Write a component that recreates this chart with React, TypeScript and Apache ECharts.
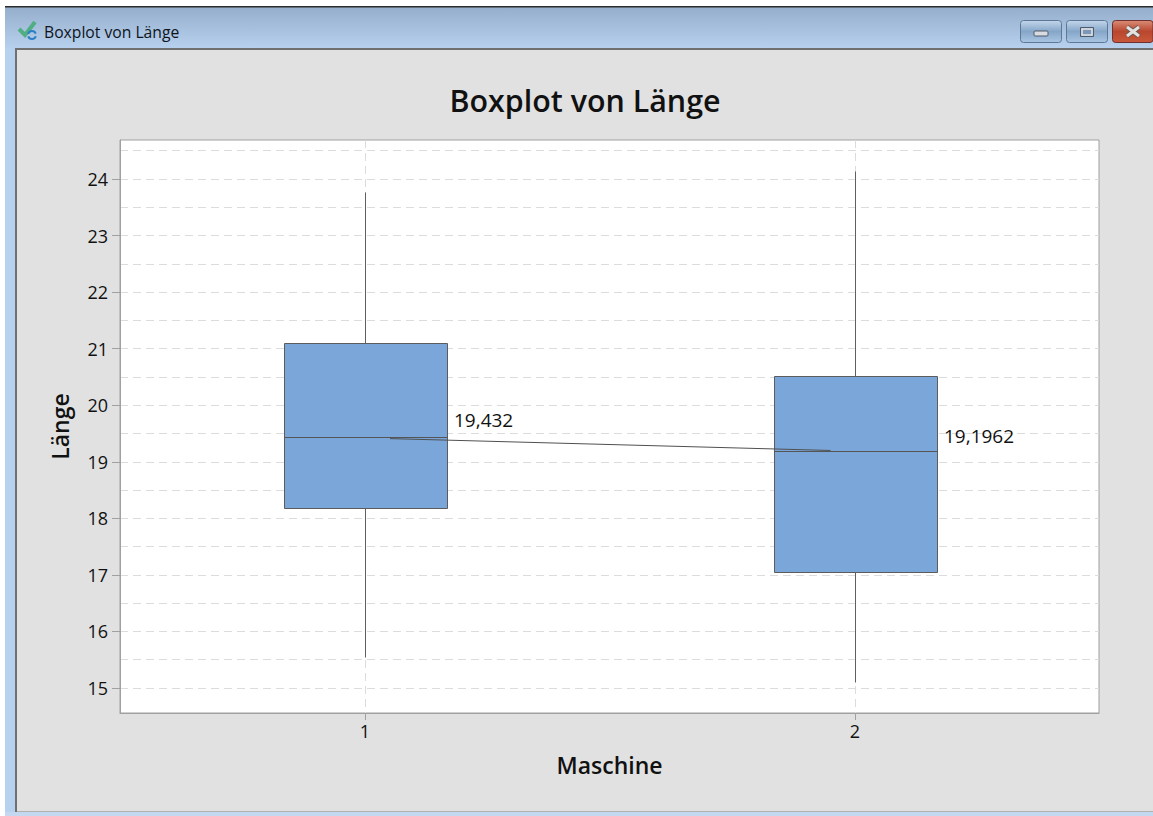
import React, { useEffect, useRef } from "react";
import * as echarts from "echarts";

const chartTitle = "Boxplot von Länge";
const windowTitle = "Boxplot von Länge";
const xName = "Maschine";
const yName = "Länge";
const machines = [1, 2];
const lows = [15.55, 15.1];
const q1s = [18.18, 17.05];
const medians = [19.432, 19.1962];
const q3s = [21.1, 20.52];
const highs = [23.77, 24.14];
const connector = [
  [1.051, 19.41],
  [1.95, 19.2],
];
const yMajor = [15, 16, 17, 18, 19, 20, 21, 22, 23, 24];
const yMinor = [15.5, 16.5, 17.5, 18.5, 19.5, 20.5, 21.5, 22.5, 23.5, 24.5];
const FONT = "'Open Sans', 'Noto Sans', sans-serif";
const BOX_W = 163;

const vGrad = (a: string, b: string, c?: string) =>
  new echarts.graphic.LinearGradient(0, 0, 0, 1, c
    ? [{ offset: 0, color: a }, { offset: 0.5, color: b }, { offset: 1, color: c }]
    : [{ offset: 0, color: a }, { offset: 1, color: b }]);

const crisp = (v: number) => Math.round(v) + 0.5;

function renderBox(params: any, api: any) {
  const x = api.value(0);
  const pt = (v: number) => api.coord([x, v]);
  const rawCx = pt(api.value(3))[0];
  const cx = crisp(rawCx);
  const yLow = crisp(pt(api.value(1))[1]);
  const yQ1 = crisp(pt(api.value(2))[1]);
  const yMed = crisp(pt(api.value(3))[1]);
  const yQ3 = crisp(pt(api.value(4))[1]);
  const yHigh = crisp(pt(api.value(5))[1]);
  const left = cx - 81;
  const right = left + BOX_W;
  const line = { stroke: "#606060", lineWidth: 1 };
  return {
    type: "group",
    children: [
      { type: "line", shape: { x1: cx, y1: yHigh, x2: cx, y2: yQ3 }, style: line },
      { type: "line", shape: { x1: cx, y1: yQ1, x2: cx, y2: yLow }, style: line },
      {
        type: "rect",
        shape: { x: left, y: yQ3, width: BOX_W, height: yQ1 - yQ3 },
        style: { fill: "#7aa6da", stroke: "#5c5c5c", lineWidth: 1 },
      },
      { type: "line", shape: { x1: left, y1: yMed, x2: right, y2: yMed }, style: { stroke: "#555", lineWidth: 1 } },
      {
        type: "text",
        x: right + 6.5,
        y: yMed - (params.dataIndex === 0 ? 17.5 : 15.5),
        style: {
          text: String(api.value(3)).replace(".", ","),
          fill: "#111",
          font: `19px ${FONT}`,
          textVerticalAlign: "middle",
        },
      },
    ],
  };
}

const chromeRect = (x: number, y: number, width: number, height: number, fill: any, extra: any = {}) => ({
  type: "rect",
  silent: true,
  shape: { x, y, width, height, ...(extra.r ? { r: extra.r } : {}) },
  style: { fill, ...(extra.stroke ? { stroke: extra.stroke, lineWidth: extra.lw || 1 } : {}) },
});

const chrome = [
  chromeRect(5, 7, 1148, 41, vGrad("#94aecb", "#b6d0ed")),
  chromeRect(5, 6, 1148, 1.5, "#2c2c2c"),
  chromeRect(5, 48, 11, 768, "#b7d2ee"),
  chromeRect(5, 812, 1148, 4, "#c4d9ef"),
  chromeRect(15, 48, 1138, 2, "#707070"),
  chromeRect(15, 48, 2, 764, "#707070"),
  chromeRect(17, 50, 1136, 761, "#e1e1e1"),
  chromeRect(17, 811, 1136, 1, "#b0b0b0"),
  // check mark + refresh icon
  { type: "polyline", silent: true, shape: { points: [[19, 29], [25, 35], [35, 22]] }, style: { stroke: "#4fae82", lineWidth: 4, fill: "none" } },
  { type: "arc", silent: true, shape: { cx: 32, cy: 35, r: 4, startAngle: 3.4, endAngle: 5.9 }, style: { stroke: "#2c7fc4", lineWidth: 2, fill: "none" } },
  { type: "arc", silent: true, shape: { cx: 32, cy: 35, r: 4, startAngle: 0.3, endAngle: 2.8 }, style: { stroke: "#2c7fc4", lineWidth: 2, fill: "none" } },
  { type: "text", silent: true, x: 44, y: 32, style: { text: windowTitle, fill: "#10141c", font: `15.7px ${FONT}`, textVerticalAlign: "middle" } },
  // window buttons
  chromeRect(1020.5, 20.5, 41, 22, vGrad("#c3d6ec", "#86a6c8", "#a9c5e3"), { r: 3, stroke: "#5d7897" }),
  chromeRect(1034, 31, 14, 5, "#d8dce2", { r: 1, stroke: "#4f5a68" }),
  chromeRect(1066.5, 20.5, 41, 22, vGrad("#c3d6ec", "#86a6c8", "#a9c5e3"), { r: 3, stroke: "#5d7897" }),
  chromeRect(1080.5, 27.5, 13, 9, "#7d97b6", { stroke: "#505c6c" }),
  chromeRect(1082, 29, 10, 6, "none", { stroke: "#e4e6ea", lw: 1.5 }),
  chromeRect(1112.5, 20.5, 40.5, 22, vGrad("#d98c76", "#b9472f", "#c9583a"), { r: 3, stroke: "#6e3030" }),
  { type: "line", silent: true, shape: { x1: 1127, y1: 27, x2: 1139, y2: 36 }, style: { stroke: "#6b5a55", lineWidth: 5 } },
  { type: "line", silent: true, shape: { x1: 1139, y1: 27, x2: 1127, y2: 36 }, style: { stroke: "#6b5a55", lineWidth: 5 } },
  { type: "line", silent: true, shape: { x1: 1127, y1: 27, x2: 1139, y2: 36 }, style: { stroke: "#e4e2e0", lineWidth: 3 } },
  { type: "line", silent: true, shape: { x1: 1139, y1: 27, x2: 1127, y2: 36 }, style: { stroke: "#e4e2e0", lineWidth: 3 } },
];

const dash = { color: "#dcdcdc", width: 1, type: [8, 5] as any };
const yMin = 14.558;
const yMax = 24.69;

export default function App() {
  const ref = useRef<HTMLDivElement>(null);
  useEffect(() => {
    const chart = echarts.init(ref.current!, undefined, { renderer: "svg" });
    chart.setOption({
      animation: false,
      backgroundColor: "#ffffff",
      graphic: { elements: chrome.map((e) => ({ ...e, z: -10, zlevel: 0 })) },
      title: {
        text: chartTitle,
        left: 580,
        top: 80,
        textAlign: "center",
        textStyle: { fontFamily: FONT, fontSize: 30.4, fontWeight: 600, color: "#111" },
      },
      grid: {
        left: 120, right: 54, top: 140, bottom: 103,
        show: true, backgroundColor: "#fff", borderColor: "#a0a0a0", borderWidth: 1,
      },
      xAxis: {
        type: "value",
        min: 0.5,
        max: 2.498,
        name: xName,
        nameLocation: "middle",
        nameGap: 40,
        nameTextStyle: { fontFamily: FONT, fontSize: 23, fontWeight: 600, color: "#111" },
        axisLine: { show: true, lineStyle: { color: "#a0a0a0" } },
        axisTick: { show: true, length: 7, lineStyle: { color: "#a0a0a0" }, customValues: machines },
        axisLabel: { fontFamily: FONT, fontSize: 18, color: "#111", margin: 9, customValues: machines },
        splitLine: { show: true, lineStyle: dash },
      },
      yAxis: [
        {
          type: "value",
          min: yMin,
          max: yMax,
          name: yName,
          nameLocation: "middle",
          nameGap: 49,
          nameTextStyle: { fontFamily: FONT, fontSize: 23, fontWeight: 600, color: "#111" },
          axisLine: { show: true, lineStyle: { color: "#a0a0a0" } },
          axisTick: { show: true, length: 8, lineStyle: { color: "#a0a0a0" }, customValues: yMajor },
          axisLabel: { fontFamily: FONT, fontSize: 18, color: "#111", margin: 12, customValues: yMajor },
          splitLine: { show: true, lineStyle: dash },
        },
        {
          type: "value",
          min: yMin,
          max: yMax,
          position: "left",
          axisLine: { show: false },
          axisTick: { show: false, customValues: yMinor },
          axisLabel: { show: false, customValues: yMinor },
          splitLine: { show: true, lineStyle: dash },
        },
      ],
      series: [
        {
          type: "custom",
          z: 5,
          clip: false,
          data: machines.map((m, i) => [m, lows[i], q1s[i], medians[i], q3s[i], highs[i]]),
          encode: { x: 0, y: [1, 2, 3, 4, 5] },
          renderItem: renderBox,
        },
        {
          type: "line",
          z: 6,
          data: connector,
          showSymbol: false,
          symbol: "none",
          lineStyle: { color: "#505050", width: 1 },
        },
      ],
    });
    return () => chart.dispose();
  }, []);
  return <div ref={ref} style={{ position: "fixed", left: 0, top: 0, width: 1153, height: 816 }} />;
}
